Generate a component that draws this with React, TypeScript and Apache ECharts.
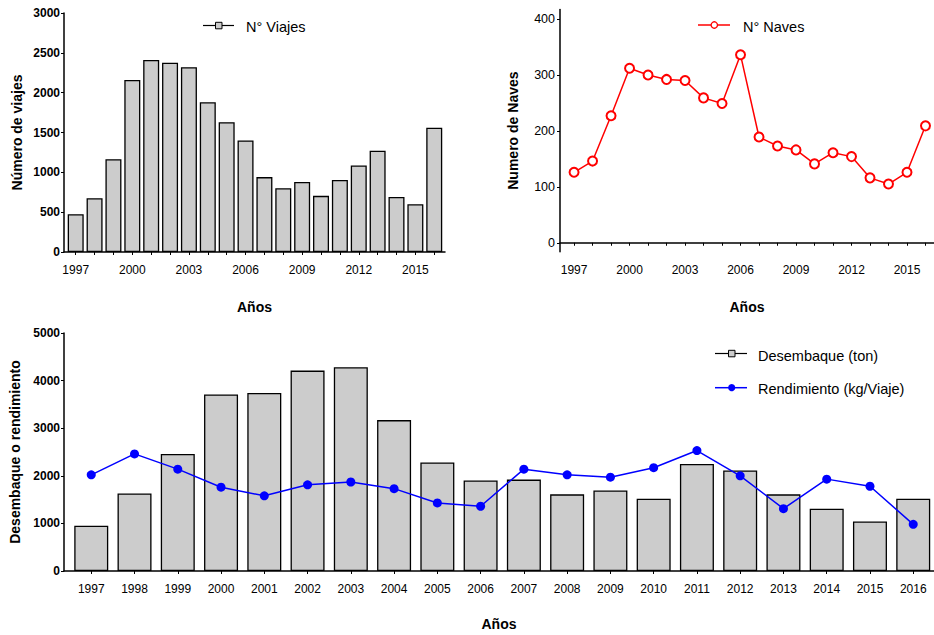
import React, { useEffect, useRef } from "react";
import * as echarts from "echarts";

const years = [1997, 1998, 1999, 2000, 2001, 2002, 2003, 2004, 2005, 2006, 2007, 2008, 2009, 2010, 2011, 2012, 2013, 2014, 2015, 2016];
const topTickLabels = [1997, 2000, 2003, 2006, 2009, 2012, 2015];
const viajes = [475, 675, 1165, 2160, 2410, 2375, 2320, 1880, 1630, 1400, 940, 800, 880, 705, 905, 1085, 1270, 690, 600, 1560];
const naves = [126, 146, 227, 312, 300, 292, 290, 259, 249, 336, 189, 173, 166, 141, 161, 154, 116, 105, 126, 209];
const navesTicks = [0, 100, 200, 300, 400];
const desembarque = [950, 1630, 2460, 3710, 3740, 4210, 4280, 3170, 2280, 1900, 1920, 1610, 1690, 1520, 2250, 2110, 1610, 1310, 1040, 1520];
const rendimiento = [2020, 2460, 2140, 1760, 1580, 1810, 1870, 1730, 1430, 1360, 2140, 2020, 1970, 2170, 2530, 2000, 1310, 1930, 1780, 980];

const FONT = "'Liberation Sans', Arial, sans-serif";
const plain = (v: number) => String(v);

export default function App() {
  const ref = useRef<HTMLDivElement>(null);
  useEffect(() => {
    if (!ref.current) return;
    const chart = echarts.init(ref.current, null, { renderer: "svg" });
    const axisLine = { show: true, lineStyle: { color: "#000", width: 1.5 } };
    const tick = { show: true, length: 3, lineStyle: { color: "#000", width: 1 } };
    const xBase = (idx: number, min: number, max: number, labels: number[]) => ({
      type: "value",
      gridIndex: idx,
      min,
      max,
      splitLine: { show: false },
      axisLine,
      axisTick: { ...tick, customValues: years },
      axisLabel: {
        customValues: labels,
        formatter: plain,
        color: "#000",
        fontSize: 12,
        fontFamily: FONT,
        margin: 12,
      },
      name: "Años",
      nameLocation: "middle",
      nameGap: 48,
      nameTextStyle: { fontWeight: "bold", fontSize: 14, fontFamily: FONT, color: "#000" },
    });
    const option: any = {
      animation: false,
      backgroundColor: "#fff",
      textStyle: { fontFamily: FONT },
      grid: [
        { left: 64, top: 13, width: 381, height: 239 },
        { left: 560, top: 9.5, width: 374, height: 242.2 },
        { left: 64, top: 333, width: 870, height: 238 },
      ],
      xAxis: [
        xBase(0, 1996.38, 2016.57, topTickLabels),
        xBase(1, 1996.24, 2016.46, topTickLabels),
        { ...xBase(2, 1996.37, 2016.48, years), nameGap: 46 },
      ],
      yAxis: [
        {
          type: "value",
          gridIndex: 0,
          min: 0,
          max: 3000,
          interval: 500,
          splitLine: { show: false },
          axisLine,
          axisTick: tick,
          axisLabel: { formatter: plain, color: "#000", fontSize: 12, fontWeight: "bold", fontFamily: FONT, margin: 4 },
          name: "Número de viajes",
          nameLocation: "middle",
          nameGap: 40,
          nameTextStyle: { fontWeight: "bold", fontSize: 14, fontFamily: FONT, color: "#000" },
        },
        {
          type: "value",
          gridIndex: 1,
          min: -16,
          max: 417,
          splitLine: { show: false },
          axisLine,
          axisTick: { ...tick, customValues: navesTicks },
          axisLabel: { customValues: navesTicks, formatter: plain, color: "#000", fontSize: 12.5, fontFamily: FONT, margin: 5 },
          name: "Numero de Naves",
          nameLocation: "middle",
          nameGap: 40,
          nameTextStyle: { fontWeight: "bold", fontSize: 14, fontFamily: FONT, color: "#000" },
        },
        {
          type: "value",
          gridIndex: 2,
          min: 0,
          max: 5000,
          interval: 1000,
          splitLine: { show: false },
          axisLine,
          axisTick: tick,
          axisLabel: { formatter: plain, color: "#000", fontSize: 12, fontWeight: "bold", fontFamily: FONT, margin: 4 },
          name: "Desembaque o rendimiento",
          nameLocation: "middle",
          nameGap: 40,
          nameTextStyle: { fontWeight: "bold", fontSize: 14, fontFamily: FONT, color: "#000" },
        },
      ],
      series: [
        {
          name: "N° Viajes",
          type: "bar",
          xAxisIndex: 0,
          yAxisIndex: 0,
          barWidth: 16,
          data: years.map((y, i) => [y, viajes[i]]),
          itemStyle: { color: "#cccccc", borderColor: "#000", borderWidth: 1.3 },
        },
        {
          name: "N° Naves",
          type: "line",
          xAxisIndex: 1,
          yAxisIndex: 1,
          data: years.map((y, i) => [y, naves[i]]),
          symbol: "emptyCircle",
          symbolSize: 9,
          clip: false,
          lineStyle: { color: "#ff0000", width: 1.5 },
          itemStyle: { color: "#ff0000", borderColor: "#ff0000", borderWidth: 1.5 },
        },
        {
          name: "Desembaque (ton)",
          type: "bar",
          xAxisIndex: 2,
          yAxisIndex: 2,
          barWidth: 34,
          data: years.map((y, i) => [y, desembarque[i]]),
          itemStyle: { color: "#cccccc", borderColor: "#000", borderWidth: 1.3 },
        },
        {
          name: "Rendimiento (kg/Viaje)",
          type: "line",
          xAxisIndex: 2,
          yAxisIndex: 2,
          data: years.map((y, i) => [y, rendimiento[i]]),
          symbol: "circle",
          symbolSize: 9,
          clip: false,
          z: 5,
          lineStyle: { color: "#0000ff", width: 1.5 },
          itemStyle: { color: "#0000ff" },
        },
      ],
      graphic: [
        { type: "line", shape: { x1: 203, y1: 25.5, x2: 234, y2: 25.5 }, style: { stroke: "#000", lineWidth: 1.2 } },
        { type: "rect", shape: { x: 215.5, y: 22.3, width: 6.5, height: 6.5 }, style: { fill: "#cccccc", stroke: "#000", lineWidth: 1 } },
        { type: "text", x: 246, y: 26.7, style: { text: "N° Viajes", fontSize: 14.5, fontFamily: FONT, fill: "#000", verticalAlign: "middle" } },

        { type: "line", shape: { x1: 698, y1: 25, x2: 730, y2: 25 }, style: { stroke: "#ff0000", lineWidth: 1.5 } },
        { type: "circle", shape: { cx: 714.3, cy: 25, r: 3.2 }, style: { fill: "#fff", stroke: "#ff0000", lineWidth: 1.3 } },
        { type: "text", x: 743, y: 26.7, style: { text: "N° Naves", fontSize: 14.5, fontFamily: FONT, fill: "#000", verticalAlign: "middle" } },

        { type: "line", shape: { x1: 715, y1: 353.5, x2: 747, y2: 353.5 }, style: { stroke: "#000", lineWidth: 1.2 } },
        { type: "rect", shape: { x: 728.5, y: 350.3, width: 6.5, height: 6.5 }, style: { fill: "#cccccc", stroke: "#000", lineWidth: 1 } },
        { type: "text", x: 758, y: 355.5, style: { text: "Desembaque (ton)", fontSize: 14.5, fontFamily: FONT, fill: "#000", verticalAlign: "middle" } },

        { type: "line", shape: { x1: 715, y1: 387.7, x2: 747, y2: 387.7 }, style: { stroke: "#0000ff", lineWidth: 1.5 } },
        { type: "circle", shape: { cx: 731.7, cy: 387.7, r: 3.6 }, style: { fill: "#0000ff" } },
        { type: "text", x: 758, y: 389.3, style: { text: "Rendimiento (kg/Viaje)", fontSize: 14.5, fontFamily: FONT, fill: "#000", verticalAlign: "middle" } },
      ],
    };
    chart.setOption(option);
    return () => chart.dispose();
  }, []);
  return (
    <div
      ref={ref}
      style={{ position: "fixed", left: 0, top: 0, width: 934, height: 635, background: "#fff" }}
    />
  );
}
